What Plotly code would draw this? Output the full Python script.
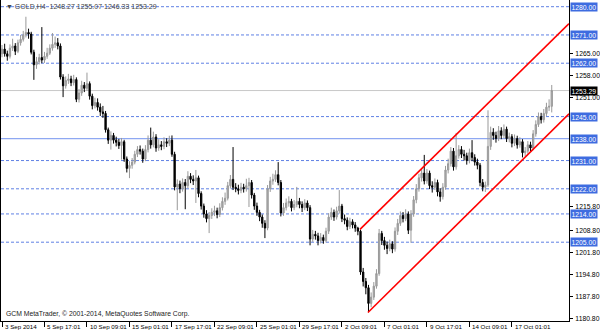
import plotly.graph_objects as go

# ---------------- data ----------------
opens = [1265.0,1266.5,1265.0,1264.2,1266.8,1267.5,1265.8,1268.5,1269.6,1271.0,
1271.8,1271.3,1265.5,1261.5,1262.5,1263.8,1263.0,1264.2,1265.2,1266.8,
1268.0,1268.5,1267.5,1257.6,1254.8,1256.5,1257.0,1255.8,1256.8,1250.5,
1252.5,1255.0,1254.0,1255.5,1251.5,1248.5,1249.5,1248.0,1246.5,1246.0,
1240.8,1237.5,1239.0,1237.5,1236.8,1235.8,1237.0,1231.5,1228.5,1229.5,
1230.5,1233.0,1234.5,1234.0,1231.5,1234.5,1237.5,1236.0,1238.5,1235.0,
1236.0,1235.5,1237.0,1236.5,1237.5,1233.0,1222.6,1223.5,1222.0,1224.0,
1223.0,1226.0,1225.0,1224.5,1225.5,1220.5,1216.5,1214.0,1212.5,1213.5,
1214.5,1215.0,1213.8,1216.0,1218.0,1219.0,1223.0,1225.0,1222.5,1222.0,
1221.5,1222.5,1222.0,1223.0,1224.0,1220.0,1216.5,1214.5,1213.0,1211.0,
1209.5,1222.0,1224.5,1225.0,1226.5,1224.0,1214.3,1216.0,1217.5,1218.0,
1216.0,1217.0,1218.0,1217.0,1216.0,1217.5,1216.0,1206.0,1207.5,1207.0,
1205.5,1206.5,1205.5,1208.5,1213.0,1214.5,1213.0,1215.0,1216.5,1212.5,
1212.0,1210.0,1211.5,1210.5,1209.5,1208.5,1195.5,1192.5,1190.5,1185.5,
1187.5,1191.0,1195.0,1207.8,1205.5,1204.0,1203.0,1204.5,1202.8,1208.5,
1211.0,1213.5,1212.5,1214.0,1208.8,1214.0,1218.5,1222.0,1225.5,1227.0,
1224.5,1227.0,1223.0,1222.5,1224.0,1221.0,1219.5,1222.5,1228.0,1230.0,
1234.0,1229.0,1232.5,1234.5,1233.0,1232.5,1231.0,1233.5,1232.0,1230.5,
1229.5,1224.0,1222.5,1223.2,1235.5,1240.0,1239.0,1238.0,1240.5,1239.0,
1241.0,1238.0,1238.6,1236.5,1238.0,1236.0,1237.0,1233.5,1234.0,1236.0,
1235.0,1239.5,1242.5,1245.0,1244.0,1246.0,1248.0,1248.27]

highs = [1267.8,1268.2,1266.0,1268.0,1269.8,1268.4,1269.5,1271.0,1272.3,1276.8,
1273.0,1272.0,1266.3,1264.0,1265.0,1273.5,1265.6,1266.9,1268.0,1271.6,
1270.5,1270.0,1268.3,1258.5,1257.8,1258.6,1258.0,1258.3,1257.5,1253.8,
1256.4,1256.0,1259.0,1256.2,1252.3,1251.0,1250.8,1249.2,1248.4,1246.8,
1241.5,1240.3,1239.8,1238.6,1237.9,1238.2,1237.6,1232.3,1230.8,1231.8,
1234.1,1235.6,1235.8,1234.8,1235.9,1239.0,1241.5,1240.2,1239.4,1237.8,
1237.2,1238.4,1238.1,1238.9,1239.0,1233.8,1225.0,1224.6,1225.3,1225.1,
1227.6,1227.0,1226.3,1228.0,1226.2,1221.2,1217.3,1215.2,1214.6,1215.8,
1216.6,1216.0,1217.4,1219.3,1220.8,1224.2,1226.4,1235.3,1223.8,1223.3,
1223.9,1223.6,1225.2,1225.5,1224.8,1220.7,1217.6,1215.3,1213.8,1212.0,
1223.2,1225.8,1226.8,1227.9,1230.5,1224.8,1217.5,1218.9,1219.6,1218.8,
1218.4,1222.6,1219.1,1218.0,1218.7,1218.3,1216.8,1208.9,1208.6,1208.0,
1207.9,1207.4,1209.6,1214.2,1216.0,1215.4,1216.3,1221.6,1217.2,1213.8,
1212.9,1212.8,1212.3,1211.4,1209.9,1209.0,1196.8,1193.6,1191.4,1189.0,
1192.3,1196.4,1209.2,1208.6,1206.7,1205.2,1205.8,1205.3,1209.7,1212.4,
1214.8,1214.6,1215.5,1214.8,1215.2,1219.7,1223.5,1226.8,1228.6,1232.8,
1228.3,1227.8,1224.4,1225.3,1224.9,1222.2,1223.8,1229.3,1231.6,1235.3,
1235.0,1239.8,1235.9,1235.6,1234.4,1233.5,1234.8,1237.5,1233.0,1231.6,
1230.2,1225.1,1224.3,1247.0,1241.8,1241.3,1240.2,1242.0,1241.6,1242.5,
1241.8,1239.9,1239.4,1239.3,1238.9,1238.4,1237.8,1235.3,1237.2,1237.0,
1240.7,1243.8,1246.3,1246.2,1247.4,1249.4,1250.5,1255.07]

lows = [1263.9,1264.1,1262.8,1263.5,1265.9,1264.6,1265.2,1267.6,1268.9,1270.2,
1269.8,1264.8,1256.7,1260.2,1261.6,1262.0,1262.1,1263.4,1264.6,1266.0,
1266.9,1266.4,1256.8,1251.2,1253.9,1255.4,1254.7,1254.9,1249.6,1249.5,
1251.6,1252.8,1253.2,1250.4,1247.3,1247.6,1246.9,1245.2,1244.6,1239.9,
1236.3,1234.5,1236.4,1235.5,1234.7,1231.3,1230.6,1227.2,1225.4,1228.4,
1229.8,1232.1,1232.9,1230.3,1230.8,1233.6,1234.8,1235.2,1233.8,1234.1,
1234.3,1234.6,1235.3,1235.6,1232.2,1221.5,1215.2,1220.6,1221.1,1215.5,
1222.2,1223.8,1223.2,1217.5,1219.3,1215.4,1212.8,1211.3,1207.9,1212.4,
1213.3,1212.6,1213.0,1215.1,1216.9,1218.3,1222.1,1221.6,1220.9,1220.2,
1220.6,1220.8,1221.1,1216.2,1218.9,1215.3,1213.4,1211.7,1209.6,1206.3,
1208.8,1221.0,1223.3,1224.2,1223.1,1213.2,1213.4,1215.1,1216.3,1214.8,
1215.2,1216.1,1215.8,1214.6,1215.2,1214.9,1204.0,1205.1,1205.8,1204.0,
1204.6,1204.5,1204.9,1207.6,1212.1,1211.8,1212.2,1214.1,1211.4,1210.7,
1208.8,1209.2,1209.4,1208.3,1207.2,1194.6,1190.9,1188.4,1182.7,1184.3,
1186.6,1190.2,1194.3,1204.1,1202.6,1201.2,1202.1,1201.5,1202.0,1207.3,
1210.2,1211.3,1211.7,1207.6,1204.8,1213.1,1217.4,1221.1,1224.3,1223.4,
1223.6,1221.9,1220.8,1221.6,1219.6,1217.9,1218.6,1221.7,1226.9,1229.1,
1227.8,1228.1,1231.6,1231.8,1231.0,1229.7,1230.1,1230.8,1229.4,1228.2,
1222.8,1221.2,1221.0,1222.6,1234.4,1237.6,1236.7,1237.2,1237.8,1238.1,
1236.9,1236.8,1235.2,1235.6,1234.8,1235.1,1232.0,1232.4,1233.2,1234.0,
1234.3,1238.6,1241.7,1242.8,1243.1,1245.2,1246.8,1246.33]

closes = [1266.5,1265.0,1264.2,1266.8,1267.5,1265.8,1268.5,1269.6,1271.0,1271.8,
1271.3,1265.5,1261.5,1262.5,1263.8,1263.0,1264.2,1265.2,1266.8,1268.0,
1268.5,1267.5,1257.6,1254.8,1256.5,1257.0,1255.8,1256.8,1250.5,1252.5,
1255.0,1254.0,1255.5,1251.5,1248.5,1249.5,1248.0,1246.5,1246.0,1240.8,
1237.5,1239.0,1237.5,1236.8,1235.8,1237.0,1231.5,1228.5,1229.5,1230.5,
1233.0,1234.5,1234.0,1231.5,1234.5,1237.5,1236.0,1238.5,1235.0,1236.0,
1235.5,1237.0,1236.5,1237.5,1233.0,1222.6,1223.5,1222.0,1224.0,1223.0,
1226.0,1225.0,1224.5,1225.5,1220.5,1216.5,1214.0,1212.5,1213.5,1214.5,
1215.0,1213.8,1216.0,1218.0,1219.0,1223.0,1225.0,1222.5,1222.0,1221.5,
1222.5,1222.0,1223.0,1224.0,1220.0,1216.5,1214.5,1213.0,1211.0,1209.5,
1222.0,1224.5,1225.0,1226.5,1224.0,1214.3,1216.0,1217.5,1218.0,1216.0,
1217.0,1218.0,1217.0,1216.0,1217.5,1216.0,1206.0,1207.5,1207.0,1205.5,
1206.5,1205.5,1208.5,1213.0,1214.5,1213.0,1215.0,1216.5,1212.5,1212.0,
1210.0,1211.5,1210.5,1209.5,1208.5,1195.5,1192.5,1190.5,1185.5,1187.5,
1191.0,1195.0,1207.8,1205.5,1204.0,1203.0,1204.5,1202.8,1208.5,1211.0,
1213.5,1212.5,1214.0,1208.8,1214.0,1218.5,1222.0,1225.5,1227.0,1224.5,
1227.0,1223.0,1222.5,1224.0,1221.0,1219.5,1222.5,1228.0,1230.0,1234.0,
1229.0,1232.5,1234.5,1233.0,1232.5,1231.0,1233.5,1232.0,1230.5,1229.5,
1224.0,1222.5,1223.2,1235.5,1240.0,1239.0,1238.0,1240.5,1239.0,1241.0,
1238.0,1238.6,1236.5,1238.0,1236.0,1237.0,1233.5,1234.0,1236.0,1235.0,
1239.5,1242.5,1245.0,1244.0,1246.0,1248.0,1248.27,1253.29]

bars = list(range(len(closes)))

time_tick_bars = [0, 16, 32, 48, 64, 80, 96, 112, 128, 144, 160, 176, 192]
time_tick_labels = ["3 Sep 2014", "5 Sep 17:01", "10 Sep 09:01", "15 Sep 01:01",
                    "17 Sep 17:01", "22 Sep 09:01", "25 Sep 01:01", "29 Sep 17:01",
                    "2 Oct 09:01", "7 Oct 01:01", "9 Oct 17:01", "14 Oct 09:01",
                    "17 Oct 01:01"]

# price labels that are visible (the rest are hidden under the level boxes)
price_ticks = [1265.0, 1258.0, 1251.0, 1215.8, 1208.8, 1201.8, 1194.8, 1187.8, 1180.8]

dashed_levels = [1280.0, 1271.0, 1262.0, 1245.0, 1231.0, 1222.0, 1214.0, 1205.0]
solid_levels = [1238.0]
bid_price = 1253.29

upper_channel_bars = [134.8, 213.5]
upper_channel_prices = [1209.1, 1274.6]
lower_channel_bars = [137.8, 213.5]
lower_channel_prices = [1182.6, 1245.9]

header_text = "▼ GOLD,H4  1248.27 1255.07 1246.33 1253.29"
footer_text = "GCM MetaTrader, © 2001-2014, MetaQuotes Software Corp."

# ---------------- figure ----------------
FONT = "Liberation Sans, Arial, sans-serif"
fig = go.Figure()

fig.add_trace(go.Candlestick(
    x=bars, open=opens, high=highs, low=lows, close=closes,
    increasing=dict(line=dict(color="#999999", width=1), fillcolor="#ADADAD"),
    decreasing=dict(line=dict(color="#000000", width=1), fillcolor="#000000"),
    whiskerwidth=0, hoverinfo="skip", showlegend=False,
))

fig.add_trace(go.Scatter(x=upper_channel_bars, y=upper_channel_prices, mode="lines",
                         line=dict(color="#FF0000", width=1.6), hoverinfo="skip",
                         showlegend=False))
fig.add_trace(go.Scatter(x=lower_channel_bars, y=lower_channel_prices, mode="lines",
                         line=dict(color="#FF0000", width=1.6), hoverinfo="skip",
                         showlegend=False))

shapes = []
for lv in dashed_levels:
    shapes.append(dict(type="line", xref="paper", x0=0, x1=1, yref="y", y0=lv, y1=lv,
                       line=dict(color="#5F80E4", width=1, dash="3px,2px"), layer="below"))
for lv in solid_levels:
    shapes.append(dict(type="line", xref="paper", x0=0, x1=1, yref="y", y0=lv, y1=lv,
                       line=dict(color="#8EA8F2", width=1.2), layer="below"))
shapes.append(dict(type="line", xref="paper", x0=0, x1=1, yref="y", y0=bid_price, y1=bid_price,
                   line=dict(color="#C8C8C8", width=1), layer="below"))

annotations = []
for b, lab in zip(time_tick_bars, time_tick_labels):
    annotations.append(dict(x=b, xref="x", y=0, yref="paper", text=lab, showarrow=False,
                            xanchor="left", yanchor="top", xshift=1, yshift=0,
                            font=dict(family=FONT, size=6.2, color="#000000")))
for lv in dashed_levels + solid_levels:
    annotations.append(dict(x=1, xref="paper", y=lv, yref="y", text=f"{lv:.2f}",
                            showarrow=False, xanchor="left", yanchor="middle", xshift=1,
                            bgcolor="#3E6CE0", borderpad=0.5,
                            font=dict(family=FONT, size=6.8, color="#FFFFFF")))
annotations.append(dict(x=1, xref="paper", y=bid_price, yref="y", text=f"{bid_price:.2f}",
                        showarrow=False, xanchor="left", yanchor="middle", xshift=1,
                        bgcolor="#000000", borderpad=0.5,
                        font=dict(family=FONT, size=6.8, color="#FFFFFF")))
annotations.append(dict(x=0, xref="paper", y=1280.0, yref="y", text=header_text,
                        showarrow=False, xanchor="left", yanchor="middle", xshift=3,
                        font=dict(family=FONT, size=7, color="#444444")))
annotations.append(dict(x=0, xref="paper", y=0, yref="paper", text=footer_text,
                        showarrow=False, xanchor="left", yanchor="bottom", xshift=3, yshift=1,
                        font=dict(family=FONT, size=6.8, color="#222222")))

fig.update_layout(
    width=600, height=333,
    margin=dict(l=1, r=28, t=0, b=12),
    paper_bgcolor="#FFFFFF", plot_bgcolor="#FFFFFF",
    showlegend=False, hovermode=False,
    shapes=shapes, annotations=annotations,
    font=dict(family=FONT, size=7, color="#000000"),
    xaxis=dict(range=[-0.375, 213.5], showgrid=False, zeroline=False,
               rangeslider=dict(visible=False),
               tickmode="array", tickvals=time_tick_bars, ticktext=[""] * len(time_tick_bars),
               ticks="outside", ticklen=5, tickcolor="#000000", tickwidth=1,
               showline=True, linecolor="#000000", linewidth=1),
    yaxis=dict(range=[1179.9, 1282.13], side="right", showgrid=False, zeroline=False,
               tickmode="array", tickvals=price_ticks,
               ticktext=[f"{v:.2f}" for v in price_ticks],
               ticks="outside", ticklen=3, tickcolor="#000000", tickwidth=1,
               tickfont=dict(family=FONT, size=6.8, color="#000000"),
               ticklabelshift=0, ticklabelstandoff=1,
               showline=True, linecolor="#000000", linewidth=1, mirror=True),
)
# nudge the 1215.80 label up a little so it clears the 1214.00 box, as in the reference
fig.update_yaxes(tickvals=[1265.0, 1258.0, 1251.0, 1216.4, 1208.8, 1201.8, 1194.8, 1187.8, 1180.8],
                 ticktext=[f"{v:.2f}" for v in price_ticks])

fig.write_html("out.html", config={"displayModeBar": False})
